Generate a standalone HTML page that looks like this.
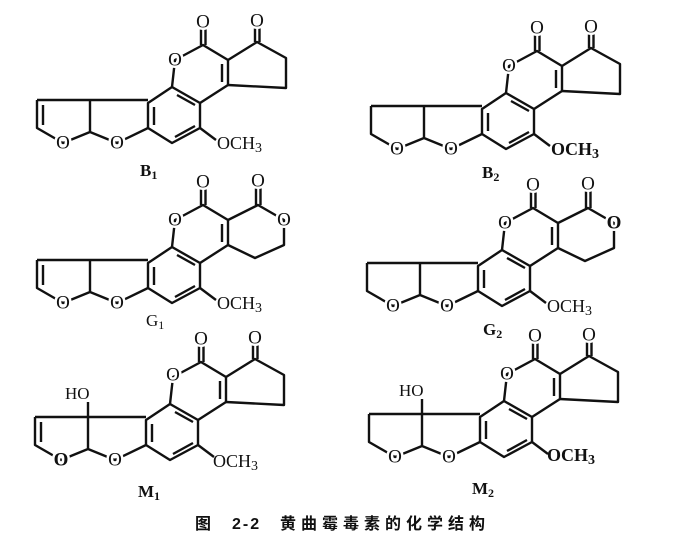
<!DOCTYPE html>
<html><head><meta charset="utf-8"><style>
html,body{margin:0;padding:0;background:#fff}
svg{display:block}
text{font-family:"Liberation Serif",serif;fill:#111}
.a{font-size:19px;text-anchor:middle;dominant-baseline:central;stroke:#fff;stroke-width:5px;paint-order:stroke}
.c{font-family:"Liberation Sans","Noto Sans CJK SC",sans-serif;font-weight:bold;font-size:16px}
</style></head><body>
<svg width="675" height="551" viewBox="0 0 675 551" xmlns="http://www.w3.org/2000/svg">
<defs>
<g id="core" fill="none" stroke="#111" stroke-width="2.4" stroke-linejoin="round">
<path d="M172,87 L200,103 L200,128 L172,143 L148,128 L148,103 Z"/>
<path d="M177,95 L195,105 M195,126 L175,137 M154,107 L154,125"/>
<path d="M172,87 L175,60 L203,45 L228,60 L228,85 L200,103 M222,64 L222,82"/>
<path d="M201,45 L201,24 M205.5,45 L205.5,24"/>
<path d="M200,128 L216,140"/>
<path d="M148,128 L117,143 L90,132 L90,100 M37,100 L148,100 M90,132 L63,143 L37,128 L37,100"/>
</g>
<g id="keto" fill="none" stroke="#111" stroke-width="2.4" stroke-linejoin="round">
<path d="M228,60 L257,42 L286,58 L286,88 L228,85 M255,42 L255,23 M259.5,42 L259.5,23"/>
</g>
<g id="lact" fill="none" stroke="#111" stroke-width="2.4" stroke-linejoin="round">
<path d="M228,60 L258,45 L284,60 L284,85 L255,98 L228,85 M256,45 L256,23 M260.5,45 L260.5,23"/>
</g>
<g id="dbl" fill="none" stroke="#111" stroke-width="2.4"><path d="M43,105 L43,125"/></g>
</defs>

<g transform="translate(0,0)">
<use href="#core"/><use href="#keto"/><use href="#dbl"/>
<text class="a" x="117" y="143">O</text><text class="a" x="63" y="143">O</text>
<text class="a" x="175" y="60">O</text><text class="a" x="203" y="22">O</text><text class="a" x="257" y="21">O</text>
<text x="217" y="149" font-size="18">OCH<tspan font-size="14" dy="3">3</tspan></text>
<text x="140" y="176" font-size="17" font-weight="bold">B<tspan font-size="12" dy="3">1</tspan></text>
</g>
<g transform="translate(334,6)">
<use href="#core"/><use href="#keto"/>
<text class="a" x="117" y="143">O</text><text class="a" x="63" y="143">O</text>
<text class="a" x="175" y="60">O</text><text class="a" x="203" y="22">O</text><text class="a" x="257" y="21">O</text>
<text x="217" y="149" font-size="18" font-weight="bold">OCH<tspan font-size="14" dy="3">3</tspan></text>
<text x="148" y="172" font-size="17" font-weight="bold">B<tspan font-size="12" dy="3">2</tspan></text>
</g>
<g transform="translate(0,160)">
<use href="#core"/><use href="#lact"/><use href="#dbl"/>
<text class="a" x="117" y="143">O</text><text class="a" x="63" y="143">O</text>
<text class="a" x="175" y="60">O</text><text class="a" x="203" y="22">O</text><text class="a" x="258" y="21">O</text>
<text class="a" x="284" y="60">O</text>
<text x="217" y="149" font-size="18">OCH<tspan font-size="14" dy="3">3</tspan></text>
<text x="146" y="166" font-size="17">G<tspan font-size="12" dy="3">1</tspan></text>
</g>
<g transform="translate(330,163)">
<use href="#core"/><use href="#lact"/>
<text class="a" x="117" y="143">O</text><text class="a" x="63" y="143">O</text>
<text class="a" x="175" y="60">O</text><text class="a" x="203" y="22">O</text><text class="a" x="258" y="21">O</text>
<text class="a" x="284" y="60" font-weight="bold">O</text>
<text x="217" y="149" font-size="18">OCH<tspan font-size="14" dy="3">3</tspan></text>
<text x="153" y="172" font-size="17" font-weight="bold">G<tspan font-size="12" dy="3">2</tspan></text>
</g>
<g transform="translate(-2,317)">
<use href="#core"/><use href="#keto"/><use href="#dbl"/>
<path d="M90,100 L90,85" stroke="#111" stroke-width="2.4"/>
<text x="67" y="82" font-size="17">HO</text>
<text class="a" x="117" y="143">O</text><text class="a" x="63" y="143" font-weight="bold">O</text>
<text class="a" x="175" y="58">O</text><text class="a" x="203" y="22">O</text><text class="a" x="257" y="21">O</text>
<text x="215" y="150" font-size="18">OCH<tspan font-size="14" dy="3">3</tspan></text>
<text x="140" y="180" font-size="17" font-weight="bold">M<tspan font-size="12" dy="3">1</tspan></text>
</g>
<g transform="translate(332,314)">
<use href="#core"/><use href="#keto"/>
<path d="M90,100 L90,85" stroke="#111" stroke-width="2.4"/>
<text x="67" y="82" font-size="17">HO</text>
<text class="a" x="117" y="143">O</text><text class="a" x="63" y="143">O</text>
<text class="a" x="175" y="60">O</text><text class="a" x="203" y="22">O</text><text class="a" x="257" y="21">O</text>
<text x="215" y="147" font-size="18" font-weight="bold">OCH<tspan font-size="14" dy="3">3</tspan></text>
<text x="140" y="180" font-size="17" font-weight="bold">M<tspan font-size="12" dy="3">2</tspan></text>
</g>
<text class="c" x="195" y="529">图</text>
<text class="c" x="232" y="529" style="letter-spacing:2px">2-2</text>
<text class="c" x="280" y="529" style="letter-spacing:5px">黄曲霉毒素的化学结构</text>
</svg>
</body></html>
